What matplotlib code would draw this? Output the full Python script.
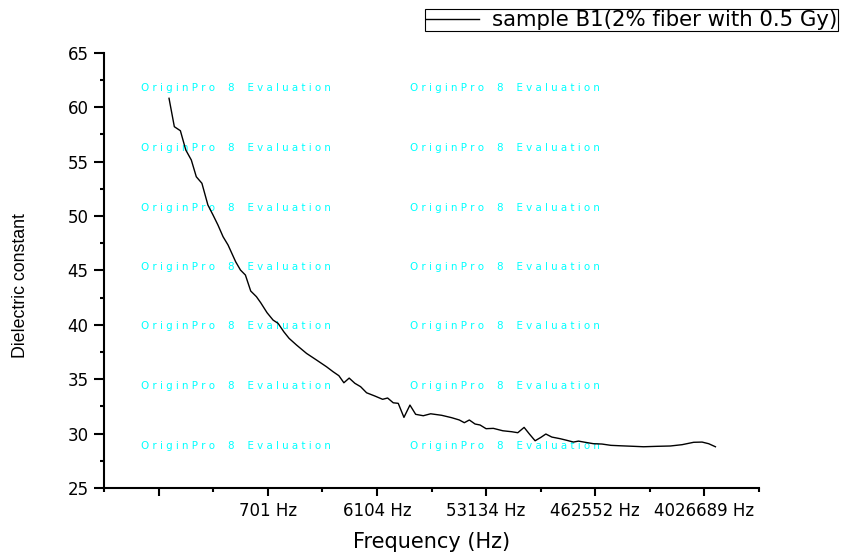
import matplotlib
matplotlib.use("Agg")
import matplotlib.pyplot as plt
from matplotlib.ticker import FixedLocator, FixedFormatter, NullFormatter

# the reference text is a horizontally stretched Arial; DejaVu Sans is the closest wide face
plt.rcParams["font.family"] = ["DejaVu Sans"]

# frequency sweep (Hz) and dielectric constant
freq_hz = [99, 110, 124, 138, 154, 170, 190, 214, 237, 261,
           289, 319, 371, 408, 450, 500, 560, 610, 691, 779,
           860, 963, 1070, 1239, 1511, 1843, 2247, 2563, 2870, 3170,
           3520, 3942, 4415, 4973, 5864, 6832, 7544, 8433, 9312, 10426,
           11744, 13152, 15294, 17713, 22033, 26875, 31249, 34514, 38117, 42684,
           47136, 53107, 61376, 73960, 88425, 99620, 112900, 125400, 140400, 157300,
           173700, 195600, 230700, 263500, 300300, 331700, 378800, 446700, 527800, 630700,
           759400, 989100, 1206000, 1574000, 2049000, 2585000, 3254000, 3845000, 4383000, 5008000]
dielectric = [60.81, 58.20, 57.83, 56.06, 55.14, 53.60, 53.00, 51.00, 50.08, 49.17,
              48.09, 47.33, 45.79, 45.03, 44.57, 43.10, 42.58, 42.02, 41.11, 40.43,
              40.13, 39.36, 38.75, 38.14, 37.37, 36.76, 36.14, 35.68, 35.32, 34.67,
              35.10, 34.62, 34.31, 33.75, 33.45, 33.15, 33.27, 32.83, 32.78, 31.49,
              32.62, 31.77, 31.64, 31.82, 31.68, 31.46, 31.25, 31.00, 31.25, 30.88,
              30.79, 30.45, 30.48, 30.26, 30.17, 30.08, 30.57, 29.96, 29.34, 29.65,
              29.96, 29.68, 29.53, 29.38, 29.22, 29.31, 29.20, 29.07, 29.04, 28.92,
              28.88, 28.83, 28.79, 28.83, 28.86, 28.98, 29.20, 29.22, 29.07, 28.79]

x_ticks = [80.5, 701, 6104, 53134, 462552, 4026689]
x_tick_labels = ["", "701 Hz", "6104 Hz", "53134 Hz", "462552 Hz", "4026689 Hz"]
y_ticks = [25, 30, 35, 40, 45, 50, 55, 60, 65]
series_label = "sample B1(2% fiber with 0.5 Gy)"
watermark = "O r i g i n P r o    8    E v a l u a t i o n"

W, H = 843, 553
fig = plt.figure(figsize=(W / 100, H / 100), dpi=100)
ax = fig.add_axes([104 / W, 1 - 488 / H, (759 - 104) / W, (488 - 52.7) / H])

ax.plot(freq_hz, dielectric, color="black", lw=1.0, label=series_label, zorder=3)

ax.set_xscale("log")
# minor ticks sit halfway (in log) between the labelled ones, and at both ends
step = (x_ticks[1] / x_ticks[0]) ** 0.5
x_minor = [x_ticks[0] / step] + [t * step for t in x_ticks]
ax.set_xlim(x_minor[0], x_minor[-1])
ax.xaxis.set_major_locator(FixedLocator(x_ticks))
ax.xaxis.set_major_formatter(FixedFormatter(x_tick_labels))
ax.xaxis.set_minor_locator(FixedLocator(x_minor))
ax.xaxis.set_minor_formatter(NullFormatter())

ax.set_ylim(25, 65)
ax.set_yticks(y_ticks)
ax.set_yticks([v + 2.5 for v in y_ticks[:-1]], minor=True)

for side in ("top", "right"):
    ax.spines[side].set_visible(False)
for side in ("left", "bottom"):
    ax.spines[side].set_linewidth(1.5)

ax.tick_params(axis="x", which="major", direction="out", length=6, width=1.5,
               pad=4, labelsize=12)
ax.tick_params(axis="y", which="major", direction="out", length=7, width=1.5,
               pad=4, labelsize=12)
ax.tick_params(which="minor", direction="out", length=3, width=1.5)

ax.set_xlabel("Frequency (Hz)", fontsize=15, labelpad=9)
ax.set_ylabel("Dielectric constant", fontsize=12.8, family="Liberation Sans")
ax.yaxis.set_label_coords(-0.115, 0.466)

# evaluation watermark of the source software
for col_x in (141, 410):
    for row_y in (88, 148, 208, 267, 326, 386, 446):
        ax.text(col_x / W, 1 - row_y / H, watermark, transform=fig.transFigure,
                color="#00ffff", fontsize=7.4, ha="left", va="center", zorder=1)

leg = ax.legend(loc="upper left", bbox_to_anchor=(425 / W, 1 - 9 / H),
                bbox_transform=fig.transFigure, borderaxespad=0, fontsize=15.3,
                frameon=True, fancybox=False, framealpha=1, edgecolor="black",
                borderpad=0.05, handlelength=2.5, handletextpad=0.6)
leg.get_frame().set_linewidth(0.8)

fig.savefig("out.png", dpi=100)
